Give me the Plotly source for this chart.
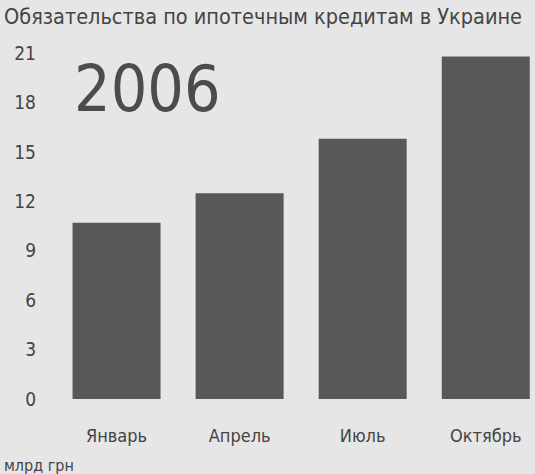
import plotly.graph_objects as go

# Mortgage obligations in Ukraine, 2006 (bn UAH)
months = ["Январь", "Апрель", "Июль", "Октябрь"]
values = [10.7, 12.5, 15.8, 20.8]
y_ticks = [0, 3, 6, 9, 12, 15, 18, 21]

title_text = "Обязательства по ипотечным кредитам в Украине"
year_text = "2006"
unit_text = "млрд грн"

FONT = "DejaVu Sans Condensed"
INK = "#444444"
BG = "#e6e6e6"
BAR = "#585858"

fig = go.Figure(
    go.Bar(
        x=months,
        y=values,
        marker=dict(color=BAR, line=dict(width=0)),
        width=0.715,
    )
)

fig.update_layout(
    width=535,
    height=474,
    margin=dict(l=55, r=0, t=45, b=75),
    paper_bgcolor=BG,
    plot_bgcolor=BG,
    showlegend=False,
    font=dict(family=FONT, color=INK),
    xaxis=dict(
        range=[-0.5, 3.4],
        showline=False,
        showgrid=False,
        zeroline=False,
        ticks="",
        tickfont=dict(size=18, family=FONT, color=INK),
        ticklabelstandoff=24,
    ),
    yaxis=dict(
        range=[0, 21.5],
        tickvals=y_ticks,
        showline=False,
        showgrid=False,
        zeroline=False,
        ticks="",
        tickfont=dict(size=19, family=FONT, color=INK),
        ticklabelstandoff=18,
    ),
    annotations=[
        dict(
            text=title_text, xref="paper", yref="paper",
            x=-53 / 480, y=1.0, xanchor="left", yanchor="bottom",
            yshift=14, showarrow=False,
            font=dict(size=21.5, family=FONT, color=INK),
        ),
        dict(
            text=year_text, xref="paper", yref="paper",
            x=17 / 480, y=1.0, xanchor="left", yanchor="top",
            yshift=-5, showarrow=False,
            font=dict(size=64, family=FONT, color="#4c4c4c"),
        ),
        dict(
            text=unit_text, xref="paper", yref="paper",
            x=-53 / 480, y=0, xanchor="left", yanchor="middle",
            yshift=-66, showarrow=False,
            font=dict(size=16, family=FONT, color=INK),
        ),
    ],
)

fig.write_html("out.html")
